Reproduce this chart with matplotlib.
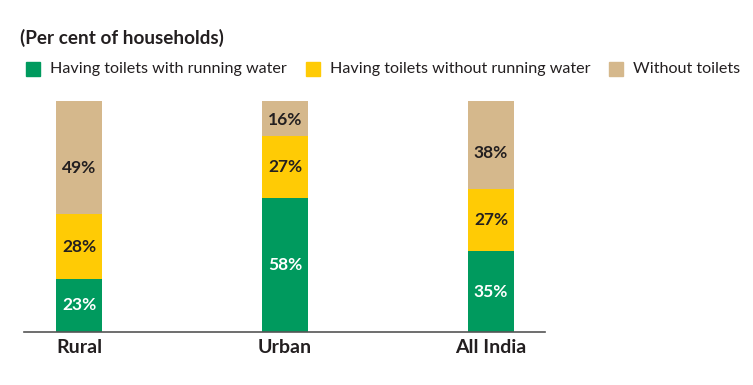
import matplotlib.pyplot as plt
from matplotlib.patches import Rectangle

categories = ["Rural", "Urban", "All India"]
with_water = [23, 58, 35]
without_water = [28, 27, 27]
no_toilet = [49, 16, 38]
series_names = ["Having toilets with running water",
                "Having toilets without running water",
                "Without toilets"]
colors = ["#009a5e", "#ffcb05", "#d5b88c"]
label_colors = ["white", "#231f20", "#231f20"]
label_pos = [0.5, 0.5, 0.41]  # where in the segment the % label sits

plt.rcParams["font.family"] = ["Lato", "DejaVu Sans"]
TXT = "#231f20"

fig = plt.figure(figsize=(7.53, 3.85), dpi=100)
ax = fig.add_axes([24 / 753, 53 / 385, 521 / 753, 231 / 385])

x = range(len(categories))
bottom = [0, 0, 0]
for vals, col, lc, lp in zip([with_water, without_water, no_toilet], colors,
                             label_colors, label_pos):
    ax.bar(x, vals, width=0.223, bottom=bottom, color=col, linewidth=0)
    for xi, b, v in zip(x, bottom, vals):
        ax.text(xi, b + v * lp, f"{v}%", ha="center", va="center",
                color=lc, fontsize=12.5, fontweight="bold")
    bottom = [b + v for b, v in zip(bottom, vals)]

ax.set_xlim(-0.267, 2.262)
ax.set_ylim(0, 100)
for s in ["top", "right", "left"]:
    ax.spines[s].set_visible(False)
ax.spines["bottom"].set_color("#555555")
ax.spines["bottom"].set_linewidth(1.2)
ax.set_yticks([])
ax.set_xticks(list(x), categories)
ax.tick_params(axis="x", length=0, pad=5, labelsize=14, labelcolor=TXT)
for t in ax.get_xticklabels():
    t.set_fontweight("bold")

# title and legend row
fig.text(20 / 753, 1 - 38 / 385, "(Per cent of households)", fontsize=13.6,
         fontweight="bold", color=TXT, va="center", ha="left")
leg_x = [26, 306, 609]
for lx, name, col in zip(leg_x, series_names, colors):
    fig.patches.append(Rectangle((lx / 753, 1 - 76 / 385), 14 / 753, 14 / 385,
                                 transform=fig.transFigure, color=col))
    fig.text((lx + 24) / 753, 1 - 69 / 385, name, fontsize=11.6, color=TXT,
             va="center", ha="left")

fig.savefig("out.png", dpi=100)
